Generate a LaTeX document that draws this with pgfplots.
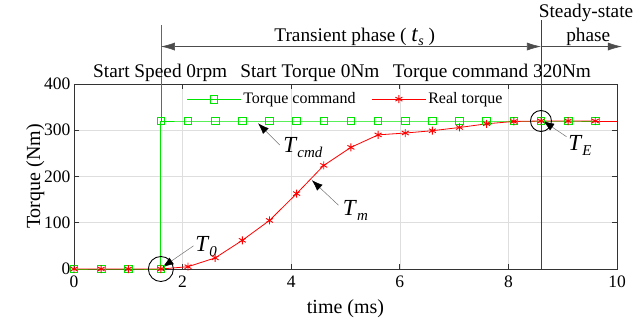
\documentclass[border=0pt]{standalone}
\usepackage{fontspec}
\setmainfont{Liberation Serif}
\usepackage{pgfplots}
\pgfplotsset{compat=1.18}
\usetikzlibrary{arrows.meta}

\definecolor{cmdgreen}{RGB}{0,230,0}
\definecolor{realred}{RGB}{255,0,0}

\newcommand{\sym}[2]{{\fontsize{23}{23}\selectfont\textit{#1}}{\fontsize{15}{15}\selectfont\raisebox{-5pt}{\textit{#2}}}}

\begin{document}
\begin{tikzpicture}[
  ann/.style={draw=black!55, line width=0.5pt, -{Latex[length=11pt,width=8pt,fill=black,color=black]}},
  phase/.style={draw=black!70, line width=0.6pt, -{Latex[length=14pt,width=8pt]}},
  txt/.style={font=\fontsize{19.3}{19.3}\selectfont, inner sep=0pt},
]
\path[use as bounding box] (-74pt,-55pt) rectangle (570pt,269pt);
\begin{axis}[
  scale only axis,
  width=543pt, height=185pt,
  xmin=0, xmax=10, ymin=0, ymax=400,
  xtick={0,2,...,10}, ytick={0,100,...,400},
  tick align=inside, major tick length=5pt,
  grid=major,
  major grid style={draw=black!13, line width=0.6pt},
  axis line style={draw=black!80, line width=0.9pt},
  tick style={draw=black!80, line width=0.9pt},
  tick label style={font=\fontsize{17.5}{17.5}\selectfont},
  xticklabel style={yshift=-3pt},
  /pgf/number format/assume math mode=true,
  xlabel={time (ms)}, ylabel={Torque (Nm)},
  label style={font=\fontsize{20}{20}\selectfont},
  xlabel style={yshift=-5pt},
  ylabel style={yshift=-7pt},
  clip=false,
  legend style={at={(0.5,0.975)}, anchor=north, draw=none, fill=none,
    font=\fontsize{16}{16}\selectfont, legend columns=2,
    /tikz/every even column/.append style={column sep=14pt}},
  legend image code/.code={\draw[mark repeat=2,mark phase=2,#1]
    plot coordinates {(0pt,0pt) (27pt,0pt) (54pt,0pt)};},
]
% phase boundaries; the step of the command covers the lower part at 1.6 ms
\draw[black!60, line width=0.5pt] (axis cs:1.6,320) -- (axis cs:1.6,528);
\draw[black!75, line width=0.5pt] (axis cs:8.6,0) -- (axis cs:8.6,538);

% command torque: zero until the step at 1.6 ms, then 320 Nm
\addplot[cmdgreen, line width=0.8pt, mark=square, mark size=3.8pt,
  mark options={solid, line width=0.8pt}]
  coordinates {(0,0) (0.5,0) (1.0,0) (1.6,0) (1.6,320) (2.1,320) (2.6,320)
  (3.1,320) (3.6,320) (4.1,320) (4.6,320) (5.1,320) (5.6,320) (6.1,320)
  (6.6,320) (7.1,320) (7.6,320) (8.1,320) (8.6,320) (9.1,320) (9.6,320)};
\addlegendentry{Torque command}
% measured torque
\addplot[realred, line width=0.8pt, mark=asterisk, mark size=4pt,
  mark options={solid, line width=0.9pt}]
  coordinates {(0,0) (0.5,0) (1.0,0) (1.6,0) (2.1,5) (2.6,24) (3.1,62)
  (3.6,105) (4.1,163) (4.6,224) (5.1,263) (5.6,290) (6.1,294) (6.6,299)
  (7.1,306) (7.6,314) (8.1,319) (8.6,320) (9.1,320) (9.6,320)};
\addlegendentry{Real torque}
\addplot[cmdgreen, line width=0.8pt, forget plot] coordinates {(9.6,320) (10,320)};
\addplot[realred, line width=0.8pt, forget plot] coordinates {(9.6,320) (10,320)};

\draw[black!70, line width=0.6pt, {Latex[length=14pt,width=8pt]}-{Latex[length=14pt,width=8pt]}]
  (axis cs:1.6,481) -- (axis cs:8.6,481);
\draw[phase] (axis cs:8.6,481) -- (axis cs:10.09,481);

\node[anchor=base, txt]
  at (axis cs:5.17,491) {Transient phase ( {\fontsize{23}{23}\selectfont\textit{t}}\raisebox{-4pt}{\fontsize{14}{14}\selectfont\textit{s}} )};
\node[anchor=base, txt] at (axis cs:9.43,543) {Steady-state};
\node[anchor=base, txt] at (axis cs:9.47,491) {phase};

\node[anchor=base west, txt] at (axis cs:0.35,415) {Start Speed 0rpm};
\node[anchor=base west, txt] at (axis cs:3.06,415) {Start Torque 0Nm};
\node[anchor=base west, txt] at (axis cs:5.87,415) {Torque command 320Nm};

% markers of start and end points
\draw[black, line width=0.9pt] (axis cs:1.6,0) circle[radius=12.5pt];
\draw[black, line width=0.9pt] (axis cs:8.6,320) circle[radius=10.5pt];

% labelled arrows
\draw[ann] (axis cs:2.2,50) -- (axis cs:1.63,4);
\node[anchor=base west, inner sep=0pt] at (axis cs:2.23,37) {\sym{T}{0}};
\draw[ann] (axis cs:3.79,268) -- (axis cs:3.39,315);
\node[anchor=base west, inner sep=0pt] at (axis cs:3.85,251) {\sym{T}{cmd}};
\draw[ann] (axis cs:4.87,138) -- (axis cs:4.38,192);
\node[anchor=base west, inner sep=0pt] at (axis cs:4.95,115) {\sym{T}{m}};
\draw[ann] (axis cs:9.07,286) -- (axis cs:8.64,320);
\node[anchor=base west, inner sep=0pt] at (axis cs:9.10,257) {\sym{T}{E}};
\end{axis}
\end{tikzpicture}
\end{document}
